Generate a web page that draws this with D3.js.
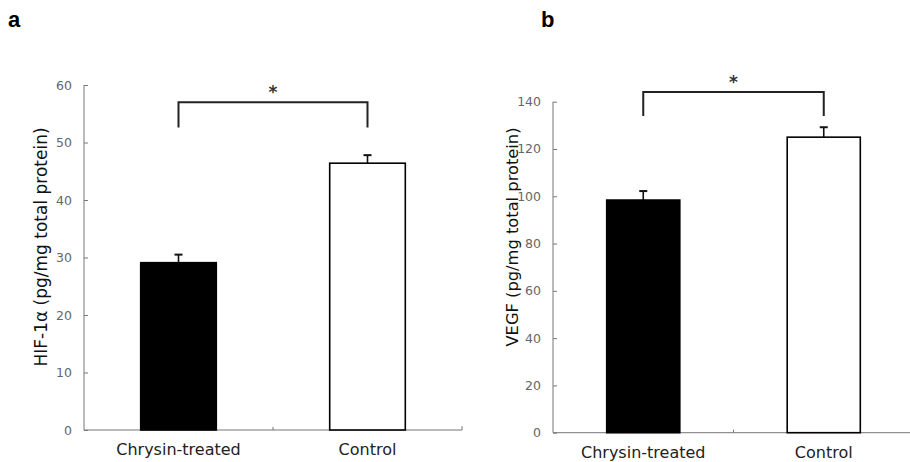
<!DOCTYPE html>
<html>
<head>
<meta charset="utf-8">
<title>HIF-1a and VEGF</title>
<style>
body { margin: 0; background: #fff; font-family: 'DejaVu Sans', sans-serif; }
svg { display: block; background: #fff; }
.tick text { fill: #666; font-size: 12.5px; font-family: 'DejaVu Sans', sans-serif; }
.axis path, .axis line { stroke: #777; }
</style>
<script src="https://cdn.jsdelivr.net/npm/d3@7"></script>
</head>
<body>
<script>
var categories = ["Chrysin-treated", "Control"];
var fills = ["#000", "#fff"];

var hifMeans = [29.1, 46.4];
var hifErrors = [1.4, 1.4];
var hifTicks = [0, 10, 20, 30, 40, 50, 60];
var hifBracket = [52.6, 57.0];

var vegfMeans = [98.4, 125.0];
var vegfErrors = [3.8, 4.2];
var vegfTicks = [0, 20, 40, 60, 80, 100, 120, 140];
var vegfBracket = [134, 144.1];

var width = 910, height = 462;

var svg = d3.select('body').append('svg')
    .attr('width', width)
    .attr('height', height);

var drawPanel = function (p) {
    var g = svg.append('g');

    var x = d3.scaleBand()
        .domain(categories)
        .range([p.left, p.right])
        .padding(0);

    var y = d3.scaleLinear()
        .domain([0, p.ticks[p.ticks.length - 1]])
        .range([p.bottom, p.top]);

    var barW = x.bandwidth() * p.barFrac;
    var cx = function (d) { return x(d) + x.bandwidth() / 2; };

    // y axis, ticks point inward
    g.append('g')
        .attr('class', 'axis')
        .attr('transform', 'translate(' + p.left + ',0)')
        .call(d3.axisLeft(y).tickValues(p.ticks).tickSizeInner(-4).tickSizeOuter(0).tickPadding(12))
        .call(function (a) { a.select('.domain').attr('d', 'M0,' + p.top + 'V' + p.bottom); });

    // x axis: baseline with small tick between groups and at the end
    var xa = g.append('g').attr('class', 'axis');
    xa.append('path')
        .attr('d', 'M' + p.left + ',' + y(0) + 'H' + p.right + 'v-4')
        .attr('fill', 'none')
        .attr('stroke', '#777');
    xa.append('line')
        .attr('x1', x(categories[1])).attr('x2', x(categories[1]))
        .attr('y1', y(0)).attr('y2', y(0) - 3)
        .attr('stroke', '#777');

    g.selectAll('.cat')
        .data(categories)
        .enter().append('text')
        .attr('x', cx)
        .attr('y', y(0) + 25)
        .attr('text-anchor', 'middle')
        .style('font-size', '16px')
        .style('fill', '#222')
        .text(function (d) { return d; });

    // error bars (upper only)
    var err = g.selectAll('.err')
        .data(categories)
        .enter().append('g')
        .attr('stroke', '#111')
        .attr('stroke-width', 1.6);
    err.append('line')
        .attr('x1', cx).attr('x2', cx)
        .attr('y1', function (d, i) { return y(p.means[i]); })
        .attr('y2', function (d, i) { return y(p.means[i] + p.errors[i]); });
    err.append('line')
        .attr('x1', function (d) { return cx(d) - 4; })
        .attr('x2', function (d) { return cx(d) + 4; })
        .attr('y1', function (d, i) { return y(p.means[i] + p.errors[i]); })
        .attr('y2', function (d, i) { return y(p.means[i] + p.errors[i]); })
        .attr('stroke-width', 2);

    // bars
    g.selectAll('.bar')
        .data(categories)
        .enter().append('rect')
        .attr('x', function (d) { return cx(d) - barW / 2; })
        .attr('width', barW)
        .attr('y', function (d, i) { return y(p.means[i]); })
        .attr('height', function (d, i) { return y(0) - y(p.means[i]); })
        .attr('fill', function (d, i) { return fills[i]; })
        .attr('stroke', '#000')
        .attr('stroke-width', 1.6);

    // significance bracket
    var x0 = cx(categories[0]), x1 = cx(categories[1]);
    g.append('path')
        .attr('d', 'M' + x0 + ',' + y(p.bracket[0]) + 'V' + y(p.bracket[1]) +
            'H' + x1 + 'V' + y(p.bracket[0]))
        .attr('fill', 'none')
        .attr('stroke', '#222')
        .attr('stroke-width', 2);
    g.append('text')
        .attr('x', (x0 + x1) / 2)
        .attr('y', y(p.bracket[1]) - 4)
        .attr('text-anchor', 'middle')
        .style('font-size', '17px')
        .style('font-weight', 'bold')
        .style('fill', '#333')
        .text('*');

    // y title
    g.append('text')
        .attr('transform', 'translate(' + p.titleX + ',' + p.titleY + ') rotate(-90)')
        .attr('text-anchor', 'middle')
        .style('font-size', p.titleSize + 'px')
        .style('fill', '#111')
        .text(p.title);

    // panel letter
    svg.append('text')
        .attr('x', p.letterX)
        .attr('y', 27)
        .style('font-family', "'Liberation Sans', Arial, sans-serif")
        .style('font-size', '22px')
        .style('font-weight', 'bold')
        .text(p.letter);
};

drawPanel({
    letter: 'a', letterX: 8,
    left: 84, right: 462, top: 85, bottom: 430,
    ticks: hifTicks, means: hifMeans, errors: hifErrors, bracket: hifBracket,
    barFrac: 0.40,
    title: 'HIF-1\u03b1 (pg/mg total protein)', titleX: 47, titleY: 247, titleSize: 17
});

drawPanel({
    letter: 'b', letterX: 541,
    left: 553, right: 914, top: 101.7, bottom: 432.7,
    ticks: vegfTicks, means: vegfMeans, errors: vegfErrors, bracket: vegfBracket,
    barFrac: 0.405,
    title: 'VEGF (pg/mg total protein)', titleX: 518, titleY: 237, titleSize: 16.3
});
</script>
</body>
</html>
